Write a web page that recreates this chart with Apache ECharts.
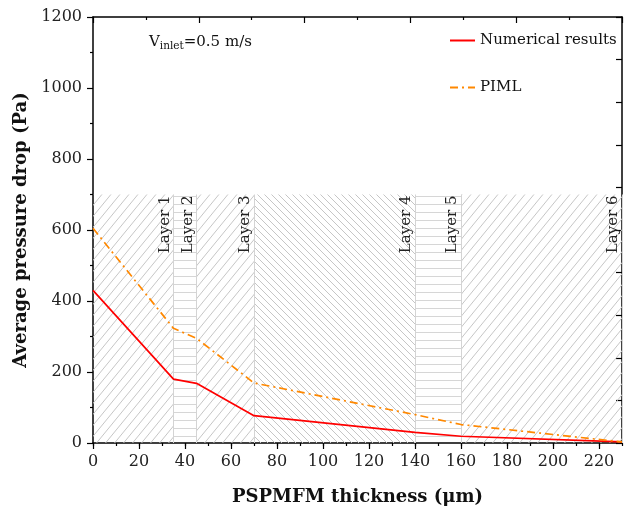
<!DOCTYPE html>
<html>
<head>
<meta charset="utf-8">
<script src="https://cdn.jsdelivr.net/npm/echarts@6/dist/echarts.min.js"></script>
<style>
html,body{margin:0;padding:0;background:#fff;}
#c{width:627px;height:514px;}
</style>
</head>
<body>
<div id="c"></div>
<script>
// ---- data ----
const thickness = [0, 35, 45, 70, 140, 160, 230];
const numerical = [430, 180, 168, 77, 30, 19, 3];
const piml = [605, 323, 295, 169, 80, 52, 3];
const layerNames = ['Layer 1', 'Layer 2', 'Layer 3', 'Layer 4', 'Layer 5', 'Layer 6'];
const layerEnds = [35, 45, 70, 140, 160, 230];
const layerHatch = ['/', '-', '/', '\\', '-', '/'];
const hatchTop = 700;
const xTicks = [0, 20, 40, 60, 80, 100, 120, 140, 160, 180, 200, 220];
const yTicks = [0, 200, 400, 600, 800, 1000, 1200];

const FONT = 'DejaVu Serif';

function hatch(type, w, h, color) {
  const c = document.createElement('canvas');
  c.width = w; c.height = h;
  const ctx = c.getContext('2d');
  ctx.strokeStyle = color; ctx.lineWidth = 1;
  ctx.beginPath();
  if (type === '/') {
    for (let k = -1; k <= 1; k++) { ctx.moveTo(k * w, h); ctx.lineTo((k + 1) * w, 0); }
  } else if (type === '\\') {
    for (let k = -1; k <= 1; k++) { ctx.moveTo(k * w, 0); ctx.lineTo((k + 1) * w, h); }
  } else {
    ctx.moveTo(0, Math.floor(h / 2) + 0.5); ctx.lineTo(w, Math.floor(h / 2) + 0.5);
  }
  ctx.stroke();
  return { image: c, repeat: 'repeat' };
}
const patterns = {
  '/': hatch('/', 9, 11, '#c6c6c6'),
  '\\': hatch('\\', 7, 7, '#c6c6c6'),
  '-': hatch('-', 8, 8, '#d6d6d6')
};

const areaData = layerEnds.map((end, i) => [
  { xAxis: i === 0 ? 0 : layerEnds[i - 1], yAxis: 0, itemStyle: { color: patterns[layerHatch[i]] } },
  { xAxis: end, yAxis: hatchTop }
]);
const lineData = layerEnds.map((end, i) => [
  { coord: [end, 0], label: { formatter: layerNames[i] } },
  { coord: [end, hatchTop] }
]);

const chart = echarts.init(document.getElementById('c'), null, { renderer: 'canvas' });
const axisLineStyle = { color: '#000', width: 1.5 };
chart.setOption({
  animation: false,
  backgroundColor: '#fff',
  grid: { left: 93, right: 5, top: 17, bottom: 71 },
  title: {
    left: 144, top: 27,
    text: '{a|V}{s|inlet}{a|=0.5 m/s}',
    textStyle: {
      fontWeight: 'normal',
      rich: {
        a: { fontFamily: FONT, fontSize: 15, fontWeight: 'normal', color: '#111' },
        s: { fontFamily: FONT, fontSize: 10.5, fontWeight: 'normal', color: '#111', verticalAlign: 'bottom', padding: [9, 0, 0, 0] }
      }
    }
  },
  legend: {
    orient: 'vertical', left: 444, top: 28, itemGap: 32, itemWidth: 25, itemHeight: 14,
    itemStyle: { opacity: 0 },
    textStyle: { fontFamily: FONT, fontSize: 15, color: '#111' },
    data: ['Numerical results', 'PIML']
  },
  xAxis: [
    {
      type: 'value', min: 0, max: 230, interval: 20, position: 'bottom',
      name: 'PSPMFM thickness (\u03bcm)', nameLocation: 'middle', nameGap: 45,
      nameTextStyle: { fontFamily: FONT, fontSize: 18, fontWeight: 'bold', color: '#111' },
      axisLine: { show: true, onZero: false, lineStyle: axisLineStyle },
      axisTick: { show: true, length: 6, lineStyle: { color: '#000', width: 1.2 } },
      axisLabel: { fontFamily: FONT, fontSize: 16, color: '#222', margin: 11, showMaxLabel: false,
        formatter: v => xTicks.includes(v) ? String(v) : '' },
      splitLine: { show: false }
    },
    {
      type: 'value', min: 0, max: 230, interval: 10, position: 'bottom',
      axisLine: { show: false }, axisLabel: { show: false },
      axisTick: { show: true, length: 3, lineStyle: { color: '#000', width: 1.2 } },
      splitLine: { show: false }
    },
    {
      type: 'value', min: 0, max: 10, interval: 2, position: 'top',
      axisLine: { show: true, onZero: false, lineStyle: axisLineStyle },
      axisTick: { show: true, inside: true, length: 6, lineStyle: { color: '#000', width: 1.2 } },
      minorTick: { show: true, splitNumber: 2, length: 3, lineStyle: { color: '#000', width: 1.2 } },
      axisLabel: { show: false }, splitLine: { show: false }
    }
  ],
  yAxis: [
    {
      type: 'value', min: 0, max: 1200, interval: 200, position: 'left',
      name: 'Average pressure drop (Pa)', nameLocation: 'middle', nameGap: 55,
      nameTextStyle: { fontFamily: FONT, fontSize: 18, fontWeight: 'bold', color: '#111' },
      axisLine: { show: true, onZero: false, lineStyle: axisLineStyle },
      axisTick: { show: true, length: 6, lineStyle: { color: '#000', width: 1.2 } },
      minorTick: { show: true, splitNumber: 2, length: 3, lineStyle: { color: '#000', width: 1.2 } },
      axisLabel: { fontFamily: FONT, fontSize: 16, color: '#222', margin: 11,
        formatter: v => yTicks.includes(v) ? String(v) : '' },
      splitLine: { show: false }
    },
    {
      type: 'value', min: 0, max: 10, interval: 1, position: 'right',
      axisLine: { show: true, onZero: false, lineStyle: axisLineStyle },
      axisTick: { show: true, inside: true, length: 6, lineStyle: { color: '#000', width: 1.2 } },
      axisLabel: { show: false }, splitLine: { show: false }
    }
  ],
  series: [
    {
      name: 'Numerical results', type: 'line', xAxisIndex: 0, yAxisIndex: 0,
      data: thickness.map((x, i) => [x, numerical[i]]),
      symbol: 'none', z: 5,
      lineStyle: { color: '#ff0000', width: 1.7 },
      itemStyle: { color: '#ff0000' },
      markArea: { silent: true, z: 1, data: areaData },
      markLine: {
        silent: true, symbol: 'none', z: 2,
        lineStyle: { color: '#d4d4d4', width: 1, type: 'solid' },
        label: { show: true, position: 'insideEndTop', distance: 1, fontFamily: FONT, fontSize: 15, color: '#222' },
        data: lineData
      }
    },
    {
      name: 'PIML', type: 'line', xAxisIndex: 0, yAxisIndex: 0,
      data: thickness.map((x, i) => [x, piml[i]]),
      symbol: 'none', z: 5,
      lineStyle: { color: '#ff8800', width: 1.7, type: [8, 4, 2, 4] },
      itemStyle: { color: '#ff8800' }
    }
  ]
});
</script>
</body>
</html>
